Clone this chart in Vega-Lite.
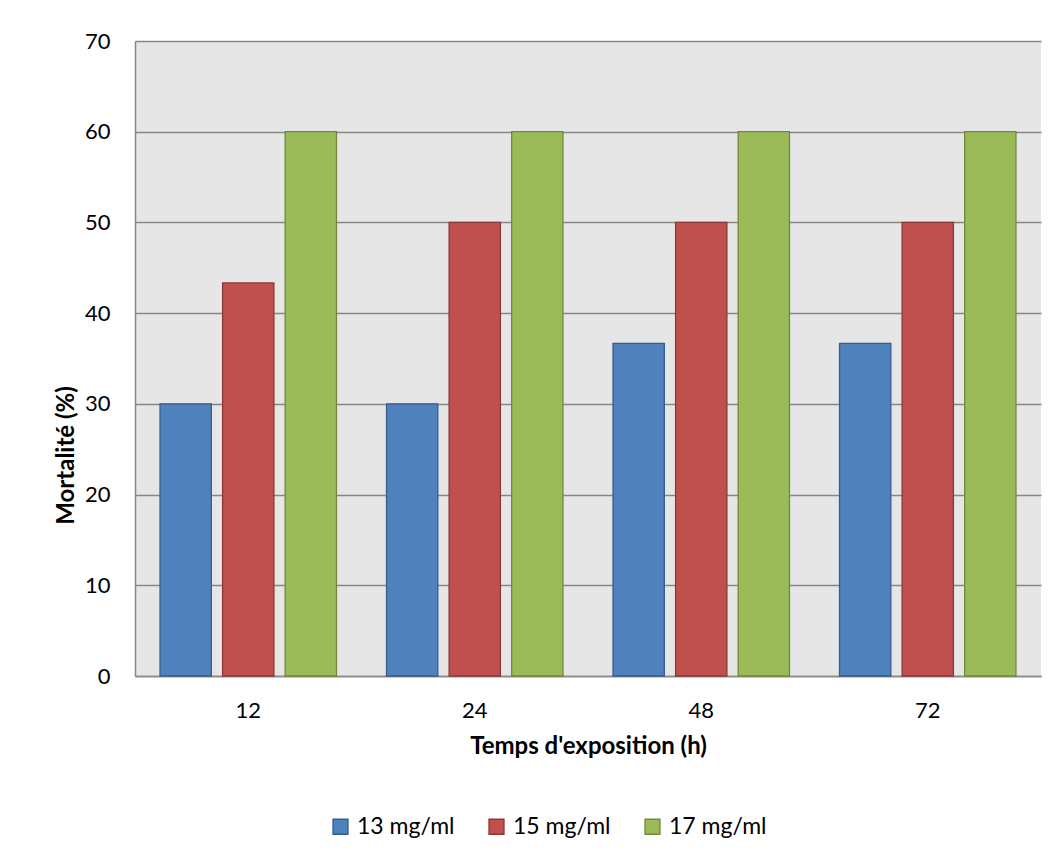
{
  "$schema": "https://vega.github.io/schema/vega-lite/v6.json",
  "autosize": {"type": "none"},
  "width": 906,
  "height": 635,
  "padding": {"left": 135, "top": 41, "right": 17, "bottom": 180},
  "background": "white",
  "config": {
    "font": "Lato",
    "view": {"fill": "#e6e6e6", "stroke": null}
  },
  "data": {
    "values": [
      {"temps": "12", "conc": "13 mg/ml", "mortalite": 30},
      {"temps": "12", "conc": "15 mg/ml", "mortalite": 43.33},
      {"temps": "12", "conc": "17 mg/ml", "mortalite": 60},
      {"temps": "24", "conc": "13 mg/ml", "mortalite": 30},
      {"temps": "24", "conc": "15 mg/ml", "mortalite": 50},
      {"temps": "24", "conc": "17 mg/ml", "mortalite": 60},
      {"temps": "48", "conc": "13 mg/ml", "mortalite": 36.67},
      {"temps": "48", "conc": "15 mg/ml", "mortalite": 50},
      {"temps": "48", "conc": "17 mg/ml", "mortalite": 60},
      {"temps": "72", "conc": "13 mg/ml", "mortalite": 36.67},
      {"temps": "72", "conc": "15 mg/ml", "mortalite": 50},
      {"temps": "72", "conc": "17 mg/ml", "mortalite": 60}
    ]
  },
  "mark": {"type": "bar", "strokeWidth": 1.3},
  "encoding": {
    "x": {
      "field": "temps",
      "type": "nominal",
      "sort": ["12", "24", "48", "72"],
      "scale": {"paddingInner": 0, "paddingOuter": 0},
      "axis": {
        "title": "Temps d'exposition (h)",
        "titleFontSize": 24,
        "titleFontWeight": "bold",
        "titleColor": "#000000",
        "titlePadding": 13,
        "labelAngle": 0,
        "labelFontSize": 22,
        "labelColor": "#000000",
        "labelPadding": 24,
        "ticks": false,
        "domainColor": "#878787",
        "domainWidth": 1.5
      }
    },
    "xOffset": {
      "field": "conc",
      "type": "nominal",
      "scale": {"paddingInner": 0.18, "paddingOuter": 0.4}
    },
    "y": {
      "field": "mortalite",
      "type": "quantitative",
      "scale": {"domain": [0, 70], "nice": false},
      "axis": {
        "title": "Mortalité (%)",
        "titleFontSize": 24,
        "titleFontWeight": "bold",
        "titleColor": "#000000",
        "titlePadding": 6,
        "titleY": 414,
        "values": [0, 10, 20, 30, 40, 50, 60, 70],
        "labelFontSize": 22,
        "labelColor": "#000000",
        "labelPadding": 25,
        "ticks": false,
        "grid": true,
        "gridColor": "#878787",
        "gridWidth": 1.3,
        "domainColor": "#878787",
        "domainWidth": 1.5
      }
    },
    "fill": {
      "field": "conc",
      "type": "nominal",
      "scale": {
        "domain": ["13 mg/ml", "15 mg/ml", "17 mg/ml"],
        "range": ["#4f81bd", "#c0504d", "#9bbb59"]
      },
      "legend": {
        "title": null,
        "orient": "none",
        "legendX": 194,
        "legendY": 774,
        "direction": "horizontal",
        "symbolType": "square",
        "symbolSize": 225,
        "symbolStrokeWidth": 1.3,
        "labelFontSize": 23,
        "labelColor": "#000000",
        "labelOffset": 5,
        "columnPadding": 30
      }
    },
    "stroke": {
      "field": "conc",
      "type": "nominal",
      "scale": {
        "domain": ["13 mg/ml", "15 mg/ml", "17 mg/ml"],
        "range": ["#385d8a", "#8c3836", "#71893f"]
      },
      "legend": null
    }
  }
}
